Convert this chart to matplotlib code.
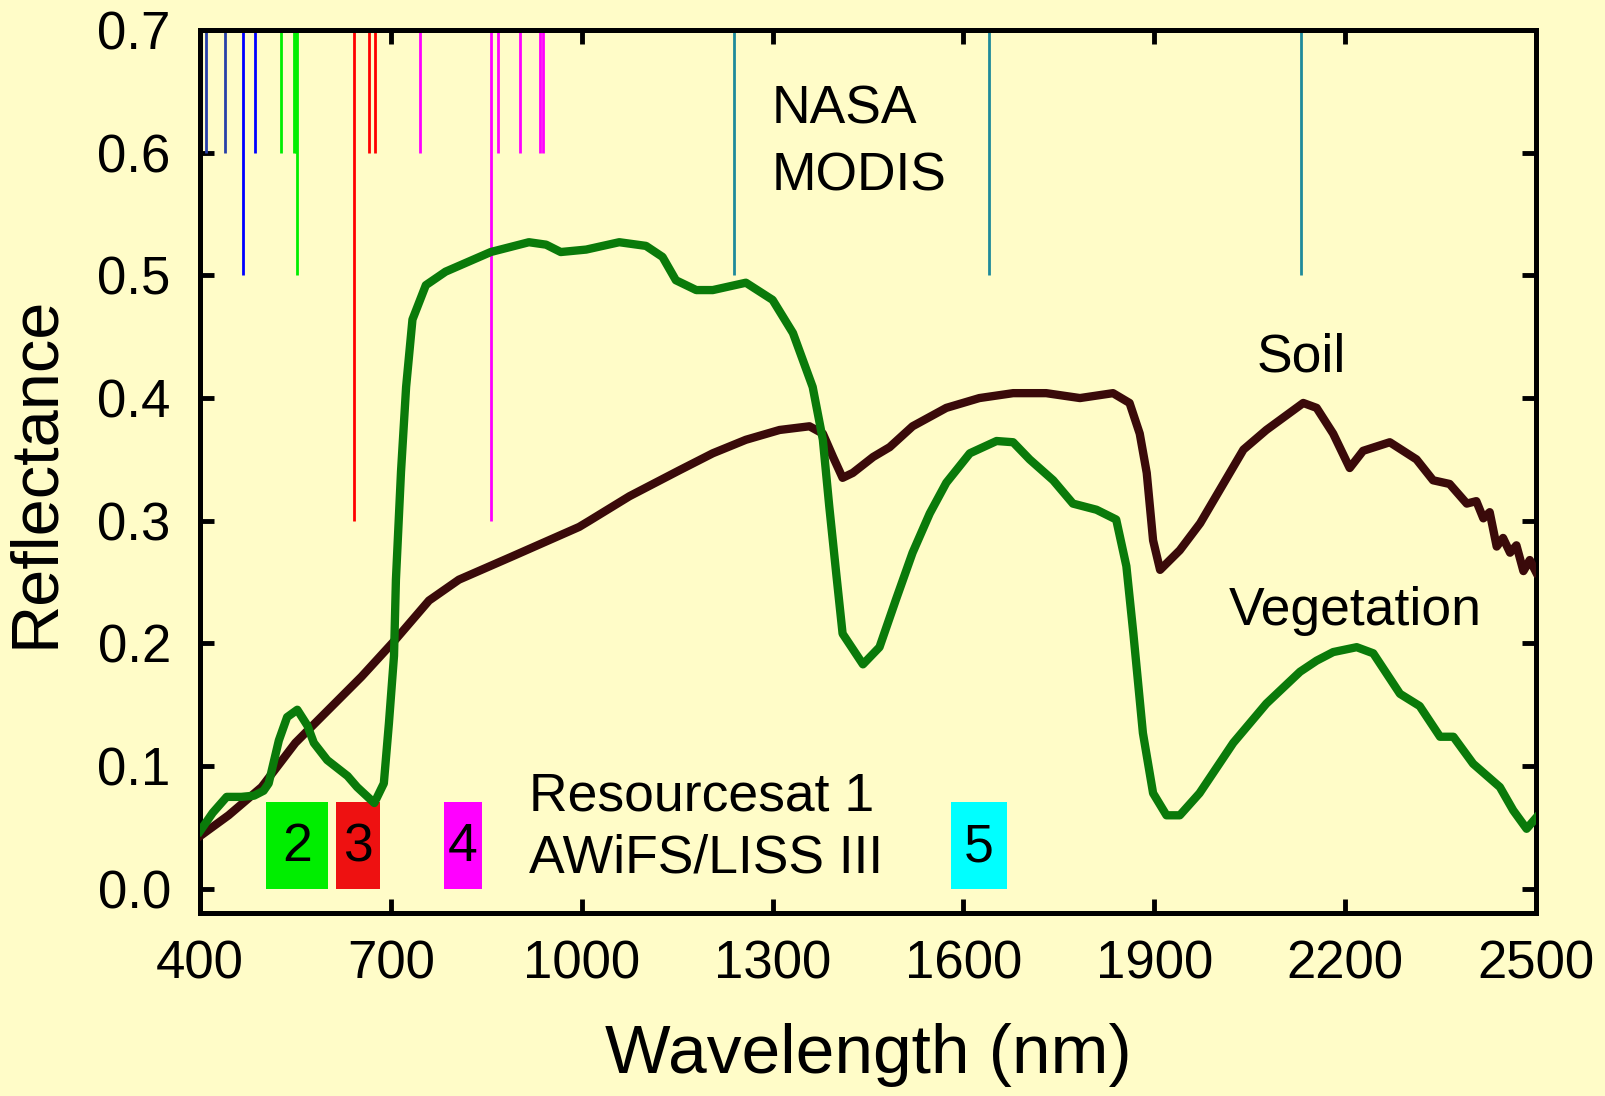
import matplotlib
matplotlib.use("Agg")
import matplotlib.pyplot as plt
from matplotlib.patches import Rectangle

BG = "#FFFCC8"
VEG_C, SOIL_C = "#0A7A0A", "#3A0A0A"

# vegetation spectrum (nm, reflectance)
veg_nm = [400, 420, 442, 465, 485, 500, 508, 524, 537, 553, 569, 579, 600, 632, 647,
          674, 689, 697, 705, 708, 716, 724, 734, 755, 786, 857, 917, 944, 967, 1007,
          1059, 1101, 1127, 1148, 1180, 1206, 1258, 1300, 1332, 1363, 1379, 1389, 1400,
          1410, 1442, 1468, 1494, 1520, 1547, 1573, 1610, 1652, 1678, 1704, 1741, 1772,
          1809, 1840, 1856, 1867, 1882, 1898, 1919, 1940, 1971, 2024, 2076, 2129, 2155,
          2181, 2218, 2244, 2286, 2317, 2349, 2370, 2401, 2443, 2464, 2485, 2500]
veg_r = [0.047, 0.062, 0.075, 0.075, 0.076, 0.080, 0.086, 0.121, 0.140, 0.146, 0.133,
         0.119, 0.105, 0.092, 0.083, 0.070, 0.086, 0.135, 0.190, 0.252, 0.340, 0.409,
         0.464, 0.492, 0.503, 0.519, 0.527, 0.525, 0.519, 0.521, 0.527, 0.524, 0.515,
         0.496, 0.488, 0.488, 0.494, 0.480, 0.453, 0.409, 0.366, 0.312, 0.257, 0.208,
         0.183, 0.197, 0.236, 0.274, 0.306, 0.331, 0.355, 0.365, 0.364, 0.350, 0.333,
         0.314, 0.309, 0.301, 0.263, 0.208, 0.127, 0.078, 0.060, 0.060, 0.078, 0.119,
         0.151, 0.177, 0.186, 0.193, 0.197, 0.192, 0.159, 0.149, 0.124, 0.124, 0.102,
         0.083, 0.064, 0.049, 0.058]

# soil spectrum
soil_nm = [400, 445, 497, 550, 602, 654, 707, 760, 807, 891, 996, 1012, 1075, 1153,
           1206, 1258, 1311, 1358, 1379, 1395, 1410, 1426, 1458, 1484, 1520, 1573, 1625,
           1678, 1730, 1783, 1835, 1861, 1877, 1888, 1898, 1909, 1940, 1972, 2040, 2076,
           2134, 2155, 2181, 2207, 2228, 2270, 2312, 2338, 2364, 2391, 2406, 2417, 2427,
           2438, 2448, 2459, 2469, 2480, 2490, 2500]
soil_r = [0.043, 0.060, 0.083, 0.119, 0.146, 0.173, 0.203, 0.235, 0.252, 0.271, 0.295,
          0.300, 0.320, 0.341, 0.355, 0.366, 0.374, 0.377, 0.371, 0.352, 0.335, 0.339,
          0.352, 0.360, 0.377, 0.392, 0.400, 0.404, 0.404, 0.400, 0.404, 0.396, 0.371,
          0.339, 0.284, 0.260, 0.276, 0.298, 0.358, 0.374, 0.396, 0.392, 0.371, 0.343,
          0.357, 0.364, 0.350, 0.333, 0.330, 0.314, 0.316, 0.302, 0.307, 0.279, 0.286,
          0.274, 0.280, 0.259, 0.268, 0.258]

# MODIS band markers hanging from the top (wavelength, lower end, colour)
modis_nm = [410, 440, 467, 486, 528, 548, 551, 553, 642, 666, 675, 746, 857, 868, 903,
            934, 939, 1239, 1640, 2130]
modis_lo = [0.6, 0.6, 0.5, 0.6, 0.6, 0.6, 0.6, 0.5, 0.3, 0.6, 0.6, 0.6, 0.3, 0.6, 0.6,
            0.6, 0.6, 0.5, 0.5, 0.5]
modis_col = ["#2840A8", "#2840A8", "#0000FF", "#0000FF", "#00EE00", "#00EE00", "#00EE00",
             "#00EE00", "#FF0000", "#FF0000", "#FF0000", "#FF00FF", "#FF00FF", "#FF00FF",
             "#FF00FF", "#FF00FF", "#FF00FF", "#1E8A9A", "#1E8A9A", "#1E8A9A"]

# Resourcesat 1 bands
rs_labels = ["2", "3", "4", "5"]
rs_lo = [504, 614, 783, 1580]
rs_hi = [601, 683, 843, 1668]
rs_col = ["#00EE00", "#EE1111", "#FF00FF", "#00FFFF"]
rs_top = 0.071

plt.rcParams["font.family"] = ["Liberation Sans", "DejaVu Sans"]
FS = 38.5

fig = plt.figure(figsize=(16.06, 10.96), dpi=100, facecolor=BG)
ax = fig.add_axes([0.1245, 0.167, 0.832, 0.8057], facecolor=BG)

ax.vlines(modis_nm, modis_lo, 0.7, colors=modis_col, lw=2.0, zorder=2)
for lab, a, b, c in zip(rs_labels, rs_lo, rs_hi, rs_col):
    ax.add_patch(Rectangle((a, 0), b - a, rs_top, color=c, lw=0, zorder=1))
    ax.text((a + b) / 2, 0.034, lab, ha="center", va="center", fontsize=FS, zorder=5)

ax.plot(soil_nm, soil_r, color=SOIL_C, lw=6, solid_joinstyle="round", zorder=3)
ax.plot(veg_nm, veg_r, color=VEG_C, lw=6, solid_joinstyle="round", zorder=4)

ax.text(1299, 0.624, "NASA", fontsize=FS, ha="left", va="baseline")
ax.text(1299, 0.569, "MODIS", fontsize=FS, ha="left", va="baseline")
ax.text(2060, 0.422, "Soil", fontsize=FS, ha="left", va="baseline")
ax.text(2017, 0.215, "Vegetation", fontsize=FS, ha="left", va="baseline")
ax.text(917, 0.0636, "Resourcesat 1", fontsize=FS, ha="left", va="baseline")
ax.text(917, 0.0133, "AWiFS/LISS III", fontsize=FS, ha="left", va="baseline")

ax.set_xlim(400, 2500)
ax.set_ylim(-0.0196, 0.7)
ax.set_xticks(range(400, 2501, 300))
ax.set_yticks([i / 10 for i in range(8)])
ax.set_yticklabels([f"{i / 10:.1f}" for i in range(8)])
ax.tick_params(direction="in", length=10, width=3.5, labelsize=38, top=True, right=True)
ax.tick_params(axis="x", pad=19)
ax.tick_params(axis="y", pad=21)
for s in ax.spines.values():
    s.set_linewidth(3.6)

ax.set_xlabel("Wavelength (nm)", fontsize=50, labelpad=24)
ax.set_ylabel("Reflectance", fontsize=48, labelpad=22)

fig.savefig("out.png", dpi=100, facecolor=BG)
